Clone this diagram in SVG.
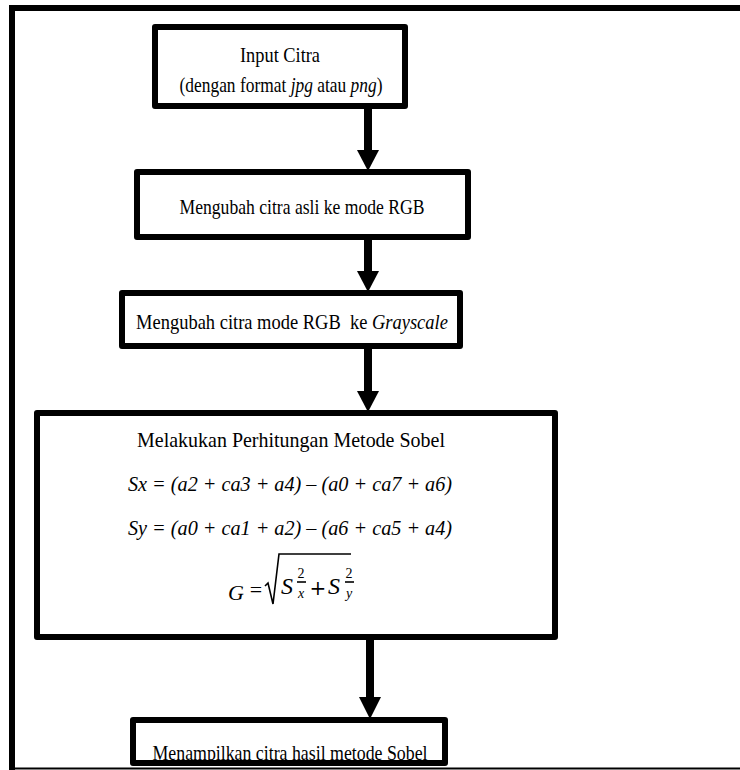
<svg xmlns="http://www.w3.org/2000/svg" width="740" height="770" viewBox="0 0 740 770">
<style>
.box{fill:#fff;stroke:#000;stroke-width:6;stroke-linejoin:round}
.t{font-family:"Liberation Serif","Times New Roman",serif;font-size:22px;fill:#000;text-anchor:middle}
.i{font-style:italic}
.ms{font-family:"Liberation Serif","Times New Roman",serif;font-style:italic;font-size:14px;text-anchor:middle}
.mn{font-family:"Liberation Serif","Times New Roman",serif;font-size:14px;text-anchor:middle}
.mS{font-family:"Liberation Serif","Times New Roman",serif;font-style:italic;font-size:24px;text-anchor:middle}
.shaft{stroke:#000;stroke-width:8}
</style>
<rect width="740" height="770" fill="#fff"/>
<g id="frame">
<path d="M12,770 L12,8 L740,8" fill="none" stroke="#000" stroke-width="6"/>
<line x1="12" y1="768.5" x2="740" y2="768.5" stroke="#000" stroke-width="2"/>
</g>
<g id="connectors">
<line class="shaft" x1="368" y1="106" x2="368" y2="152"/>
<path d="M357,150 L379,150 L368,171 Z"/>
<line class="shaft" x1="368" y1="237" x2="368" y2="273"/>
<path d="M357,271 L379,271 L368,292 Z"/>
<line class="shaft" x1="368" y1="346" x2="368" y2="393"/>
<path d="M357,391 L379,391 L368,412 Z"/>
<line class="shaft" x1="370" y1="637" x2="370" y2="699"/>
<path d="M359,697 L381,697 L370,719 Z"/>
</g>
<g id="n1">
<rect class="box" x="155" y="27" width="250" height="79"/>
<text class="t" x="280" y="62" textLength="80" lengthAdjust="spacingAndGlyphs">Input Citra</text>
<text class="t" x="281" y="92" transform="translate(281 0) scale(0.791 1) translate(-281 0)">(dengan format <tspan class="i">jpg</tspan> atau <tspan class="i">png</tspan>)</text>
</g>
<g id="n2">
<rect class="box" x="137" y="172" width="331" height="65"/>
<text class="t" x="302" y="214" textLength="245" lengthAdjust="spacingAndGlyphs">Mengubah citra asli ke mode RGB</text>
</g>
<g id="n3">
<rect class="box" x="122" y="293" width="338" height="53"/>
<text class="t" x="292" y="329" xml:space="preserve" transform="translate(292 0) scale(0.84 1) translate(-292 0)">Mengubah citra mode RGB  ke <tspan class="i">Grayscale</tspan></text>
</g>
<g id="n4">
<rect class="box" x="37" y="413" width="518" height="224"/>
<text class="t" x="291" y="447" textLength="308" lengthAdjust="spacingAndGlyphs">Melakukan Perhitungan Metode Sobel</text>
<text class="t i" x="290" y="491" textLength="324" lengthAdjust="spacingAndGlyphs">Sx = (a2 + ca3 + a4) – (a0 + ca7 + a6)</text>
<text class="t i" x="290" y="535" textLength="324" lengthAdjust="spacingAndGlyphs">Sy = (a0 + ca1 + a2) – (a6 + ca5 + a4)</text>
<text class="t i" x="236" y="600" font-size="23">G</text>
<text class="t" x="256" y="597">=</text>
<polyline points="265,586 268,583 273,604 279,554 351,554" fill="none" stroke="#000" stroke-width="1.6" stroke-linejoin="miter"/>
<text class="mS" x="287" y="594">S</text>
<text class="mn" x="301" y="578">2</text>
<line x1="297" y1="582" x2="306" y2="582" stroke="#000" stroke-width="1.6"/>
<text class="ms" x="301" y="598">x</text>
<text x="318" y="595" font-family="DejaVu Serif,serif" font-size="20" text-anchor="middle">+</text>
<text class="mS" x="334" y="594">S</text>
<text class="mn" x="349" y="578">2</text>
<line x1="345" y1="582" x2="354" y2="582" stroke="#000" stroke-width="1.6"/>
<text class="ms" x="349" y="598">y</text>
</g>
<g id="n5">
<rect class="box" x="133" y="720" width="312" height="43"/>
<text class="t" x="290" y="760" textLength="275" lengthAdjust="spacingAndGlyphs">Menampilkan citra hasil metode Sobel</text>
</g>
</svg>
